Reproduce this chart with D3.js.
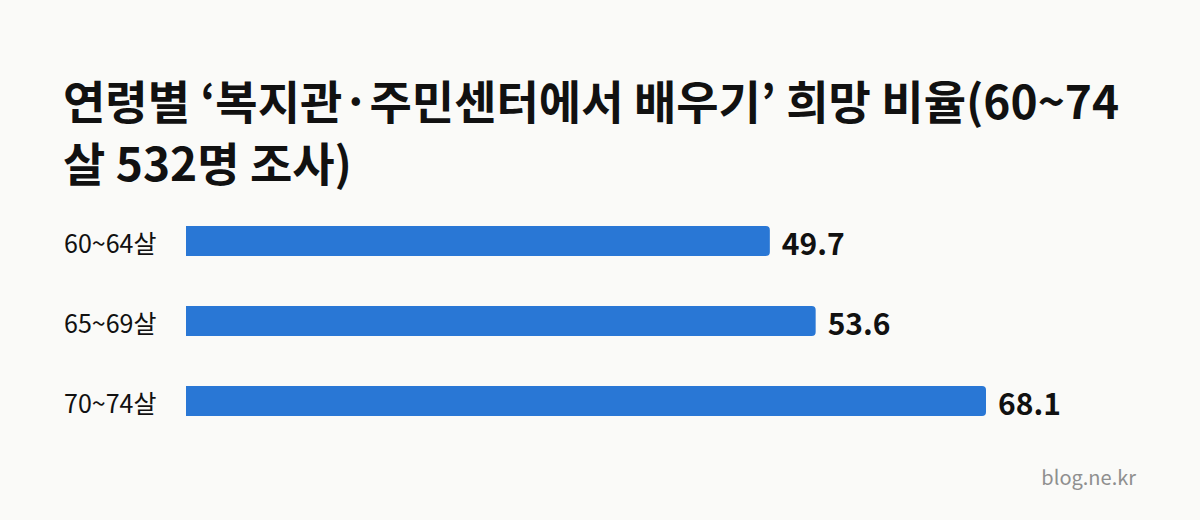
<!DOCTYPE html>
<html>
<head>
<meta charset="utf-8">
<script src="https://cdn.jsdelivr.net/npm/d3@7"></script>
<style>
  html, body { margin: 0; padding: 0; background: #fafaf8; }
  svg { display: block; font-family: "Noto Sans CJK KR", "Noto Sans", sans-serif; }
</style>
</head>
<body>
<div id="chart"></div>
<script>
"use strict";

// data
const titleLines = ["연령별 ‘복지관·주민센터에서 배우기’ 희망 비율(60~74", "살 532명 조사)"];
const categories = ["60~64살", "65~69살", "70~74살"];
const values = [49.7, 53.6, 68.1];
const source = "blog.ne.kr";

const width = 1200, height = 520;

const svg = d3.select("#chart")
  .append("svg")
  .attr("width", width)
  .attr("height", height);

svg.append("rect")
  .attr("width", width)
  .attr("height", height)
  .attr("fill", "#fafaf8");

// title
const title = svg.append("text")
  .attr("x", 63)
  .attr("y", 119)
  .attr("font-size", 46)
  .attr("font-weight", 700)
  .attr("fill", "#111");

title.selectAll("tspan")
  .data(titleLines)
  .join("tspan")
  .attr("x", 63)
  .attr("dy", (d, i) => i === 0 ? 0 : 62)
  .text(d => d);

// scales
const x = d3.scaleLinear()
  .domain([0, d3.max(values)])
  .range([186, 986]);

const y = d3.scaleBand()
  .domain(categories)
  .range([206, 436])
  .paddingInner(0.625)
  .paddingOuter(0.25);

const rows = categories.map((c, i) => ({cat: c, value: values[i]}));

// bar with only the right end rounded
function barPath(d) {
  const x0 = x(0), x1 = x(d.value), y0 = y(d.cat), h = y.bandwidth(), r = 4;
  return `M${x0},${y0} H${x1 - r} Q${x1},${y0} ${x1},${y0 + r} V${y0 + h - r} Q${x1},${y0 + h} ${x1 - r},${y0 + h} H${x0} Z`;
}

svg.append("g")
  .selectAll("path")
  .data(rows)
  .join("path")
  .attr("d", barPath)
  .attr("fill", "#2977d5");

// category labels
svg.append("g")
  .selectAll("text")
  .data(rows)
  .join("text")
  .attr("x", 64)
  .attr("y", d => y(d.cat) + y.bandwidth() / 2 + 5)
  .attr("dominant-baseline", "middle")
  .attr("font-size", 25)
  .attr("fill", "#111")
  .text(d => d.cat);

// value labels
svg.append("g")
  .selectAll("text")
  .data(rows)
  .join("text")
  .attr("x", d => x(d.value) + 12)
  .attr("y", d => y(d.cat) + y.bandwidth() / 2 + 6)
  .attr("dominant-baseline", "middle")
  .attr("font-size", 30)
  .attr("font-weight", 700)
  .attr("fill", "#111")
  .text(d => d.value.toFixed(1));

// source
svg.append("text")
  .attr("x", 1136)
  .attr("y", 485)
  .attr("text-anchor", "end")
  .attr("font-size", 20)
  .attr("fill", "#8f8f8f")
  .text(source);
</script>
</body>
</html>
